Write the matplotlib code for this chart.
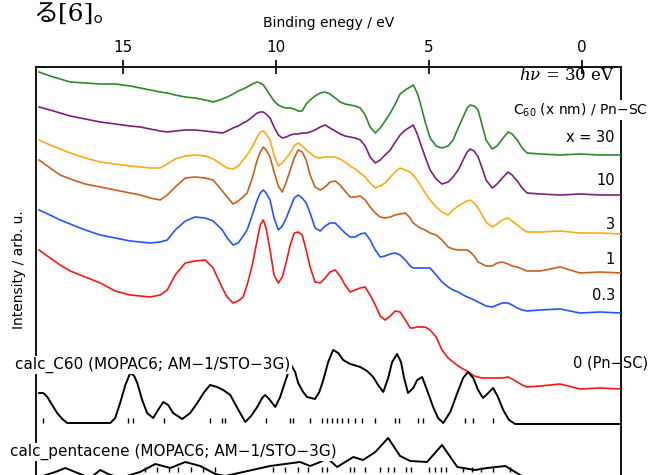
import matplotlib
matplotlib.use("Agg")
import matplotlib.pyplot as plt
import numpy as np

# ---------------- data ----------------
# common binding-energy grid (eV) of the measured spectra
energy = [17.75, 17.39, 17.06, 16.73, 16.24, 15.75, 15.26, 14.77, 14.44, 14.12,
          13.79, 13.56, 13.30, 12.97, 12.65, 12.32, 12.06, 11.76, 11.60, 11.41,
          11.24, 11.08, 10.95, 10.78, 10.62, 10.52, 10.42, 10.33, 10.20, 10.07,
          9.93, 9.80, 9.67, 9.54, 9.41, 9.28, 9.15, 9.02, 8.89, 8.73,
          8.56, 8.40, 8.24, 8.07, 7.91, 7.75, 7.58, 7.42, 7.25, 7.09,
          6.93, 6.76, 6.60, 6.44, 6.27, 6.11, 5.95, 5.78, 5.62, 5.52,
          5.39, 5.29, 5.13, 4.97, 4.77, 4.58, 4.38, 4.22, 4.05, 3.89,
          3.76, 3.66, 3.53, 3.40, 3.27, 3.14, 2.94, 2.78, 2.61, 2.42,
          2.29, 2.12, 1.96, 1.80, 1.37, 0.72, 0.07, -0.59, -1.24]

# intensities (arb. u.) relative to each trace's low-binding-energy level
i_30 = [83, 79, 76, 73, 72, 71, 71, 69, 67, 65, 63, 62, 60, 58, 57, 55, 53, 56, 58, 61,
        64, 66, 68, 71, 73, 72, 70, 66, 60, 54, 50, 48, 47, 47, 46, 44, 44, 51, 55, 59,
        62, 63, 61, 57, 53, 51, 50, 49, 47, 40, 28, 22, 27, 34, 42, 51, 61, 65, 68, 70,
        62, 52, 33, 17, 9, 7, 9, 15, 27, 38, 47, 50, 49, 45, 30, 15, 6, 9, 16, 23,
        21, 15, 7, 2, 1, 0, 1, 0, 0]
i_10 = [88, 85, 82, 79, 76, 73, 71, 69, 68, 66, 64, 63, 64, 65, 65, 64, 63, 62, 64, 67,
        69, 72, 74, 78, 82, 83, 83, 81, 77, 68, 60, 57, 58, 60, 61, 61, 62, 62, 63, 65,
        68, 70, 67, 64, 61, 59, 58, 57, 55, 49, 38, 32, 35, 40, 45, 53, 60, 65, 68, 70,
        61, 52, 38, 25, 16, 11, 13, 18, 25, 35, 43, 46, 44, 38, 27, 15, 7, 11, 17, 23,
        20, 14, 7, 2, 1, 0, 1, 0, 0]
i_3 = [94, 89, 85, 81, 76, 72, 70, 68, 67, 66, 66, 70, 75, 78, 79, 78, 75, 69, 66, 65,
       68, 74, 79, 87, 97, 102, 103, 100, 94, 79, 68, 71, 76, 81, 88, 91, 88, 84, 81, 77,
       76, 77, 77, 77, 75, 72, 68, 65, 61, 57, 51, 46, 48, 51, 57, 62, 66, 64, 62, 59,
       54, 49, 41, 34, 27, 22, 19, 24, 28, 31, 33, 34, 31, 26, 19, 12, 7, 10, 14, 16,
       13, 9, 5, 2, 2, 3, 1, 1, 0]
i_1 = [113, 105, 98, 94, 89, 86, 83, 80, 78, 75, 73, 78, 86, 95, 96, 95, 93, 82, 76, 69,
       72, 76, 80, 95, 113, 121, 126, 123, 116, 101, 87, 81, 91, 103, 115, 123, 121, 113, 98, 86,
       83, 86, 91, 92, 88, 82, 76, 76, 77, 73, 66, 60, 56, 55, 56, 58, 59, 60, 55, 50,
       47, 45, 43, 40, 38, 33, 26, 24, 23, 23, 23, 21, 17, 11, 9, 7, 7, 10, 11, 9,
       7, 6, 4, 2, 2, 6, 0, 1, 0]
i_03 = [103, 98, 93, 89, 83, 78, 75, 72, 71, 70, 71, 73, 83, 92, 96, 95, 92, 83, 75, 68,
        70, 77, 83, 98, 113, 120, 123, 120, 113, 95, 83, 87, 95, 105, 115, 118, 115, 110, 100, 85,
        82, 87, 90, 90, 85, 80, 76, 76, 79, 80, 73, 63, 56, 57, 59, 60, 58, 53, 47, 45,
        45, 45, 45, 45, 38, 31, 26, 23, 21, 18, 16, 15, 13, 11, 9, 7, 6, 8, 10, 10,
        8, 5, 3, 2, 3, 4, 0, 1, 0]
i_0 = [139, 131, 124, 118, 112, 106, 98, 94, 93, 92, 94, 99, 114, 126, 128, 129, 121, 101, 92, 86,
       88, 92, 104, 124, 149, 164, 169, 161, 139, 114, 106, 112, 127, 144, 156, 157, 154, 139, 122, 107,
       106, 111, 117, 119, 113, 104, 97, 99, 101, 102, 94, 84, 73, 69, 73, 78, 77, 69, 61, 61,
       62, 62, 62, 59, 52, 39, 31, 27, 23, 20, 18, 16, 13, 12, 11, 11, 11, 11, 11, 12,
       10, 7, 4, 2, 3, 5, 0, 1, 0]

# calculated DOS of C60
e_c60 = [17.75, 17.61, 17.48, 17.32, 17.16, 16.99, 16.83, 15.42, 15.26, 15.10, 14.93, 14.77, 14.64, 14.54,
         14.38, 14.22, 14.02, 13.86, 13.69, 13.53, 13.37, 13.07, 12.81, 12.58, 12.35, 12.16, 11.93, 11.73,
         11.50, 11.27, 11.01, 10.82, 10.62, 10.46, 10.36, 10.23, 10.03, 9.87, 9.71, 9.61, 9.51, 9.38, 9.28,
         9.12, 8.99, 8.73, 8.59, 8.46, 8.30, 8.14, 7.97, 7.81, 7.58, 7.25, 7.03, 6.83, 6.67, 6.50, 6.34,
         6.21, 6.05, 5.92, 5.82, 5.69, 5.52, 5.39, 5.23, 5.07, 4.87, 4.71, 4.54, 4.31, 4.08, 3.89, 3.73,
         3.56, 3.40, 3.24, 3.07, 2.91, 2.75, 2.58, 2.39, 2.19, -1.24]
i_c60 = [31, 31, 27, 19, 11, 5, 1, 1, 6, 21, 39, 51, 48, 41,
         24, 11, 6, 14, 22, 19, 11, 5, 11, 21, 32, 39, 37, 34,
         29, 16, 2, 8, 17, 26, 29, 25, 17, 27, 42, 51, 59, 52, 41,
         32, 27, 25, 32, 44, 62, 74, 71, 64, 60, 57, 53, 47, 39, 32, 46,
         62, 70, 62, 46, 31, 36, 44, 47, 34, 17, 6, 1, 12, 31, 46, 52,
         46, 34, 26, 31, 36, 27, 14, 4, 0, 0]
stick_c60 = [17.61, 14.84, 14.67, 13.66, 12.16, 11.76, 11.67, 10.33, 9.54, 9.44, 8.89, 8.50, 8.33, 8.17, 8.01, 7.84,
             7.65, 7.42, 7.19, 6.76, 6.11, 5.98, 5.36, 5.20, 3.82, 3.56, 2.91]

# calculated DOS of pentacene (only the upper part is visible)
e_pn = [17.84, 17.22, 16.89, 16.57, 16.08, 15.75, 15.49, 15.10, 14.45, 13.95, 13.46, 12.97, 12.48, 11.99, 11.34, 10.68,
        10.20, 9.71, 9.22, 8.89, 8.56, 8.33, 8.01, 7.48, 7.16, 6.76, 6.34, 5.95, 5.62, 5.07, 4.58, 4.08, 3.50, 3.10, 2.51,
        2.19, 1.86, -1.24]
i_pn = [0, 6, 10, 6, 0, 8, 4, 0, 6, 14, 10, 16, 12, 4, 0, 2,
        12, 14, 16, 12, 16, 20, 11, 21, 18, 26, 40, 22, 17, 16, 33, 11, 8, 10, 12,
        6, 0, 0]
stick_pn = [14.3, 13.9, 13.5, 13.2, 12.8, 12.4, 12.0, 10.1, 9.7, 9.3, 8.95, 8.5, 8.35, 7.6, 7.45, 7.1, 6.6, 6.35, 6.15,
            5.75, 5.6, 5.0, 4.8, 4.6, 4.45, 3.9, 3.6, 3.3, 2.9, 2.35]

labels = ["x = 30", "10", "3", "1", "0.3", "0 (Pn\u2212SC)"]
series_i = [i_30, i_10, i_3, i_1, i_03, i_0]
offsets = [320, 280, 241, 202, 162, 86]
colors = ["#2b8a2b", "#7d1f7d", "#ffaa10", "#cc5f1e", "#2255ff", "#ff1414"]
c60_offset = 51
pn_offset = -3

xticks = [15, 10, 5, 0]

# ---------------- figure ----------------
W, H = 649, 475
fig = plt.figure(figsize=(W / 100, H / 100), dpi=100)
ax = fig.add_axes([36 / W, 0, (621 - 36) / W, (475 - 67) / H])
ax.set_xlim(17.85, -1.27)
ax.set_ylim(0, 408)

for i, off, c in zip(series_i, offsets, colors):
    ax.plot(energy, np.asarray(i) + off, color=c, lw=1.2, zorder=3)

ax.plot(e_c60, np.asarray(i_c60) + c60_offset, color="black", lw=1.4, zorder=3)
ax.vlines(stick_c60, c60_offset + 1, c60_offset + 6, color="black", lw=1.0)
ax.plot(e_pn, np.asarray(i_pn) + pn_offset, color="black", lw=1.4, zorder=3)
ax.vlines(stick_pn, 3, 8, color="black", lw=1.0)

# axes styling
ax.spines["bottom"].set_visible(False)
for s in ("top", "left", "right"):
    ax.spines[s].set_linewidth(1.3)
ax.set_yticks([])
ax.xaxis.tick_top()
ax.xaxis.set_label_position("top")
ax.set_xticks(xticks)
ax.set_xticklabels([str(t) for t in xticks])
ax.tick_params(axis="x", direction="inout", length=10, width=1.2, labelsize=11, pad=4)
ax.set_xlabel("Binding enegy / eV", fontsize=10, labelpad=9)

# texts
def ftxt(x, y, s, **kw):
    return fig.text(x / W, 1 - y / H, s, **kw)

ftxt(33, 15, "る[6]。", fontsize=18, va="center", ha="left",
     family=["DejaVu Serif", "Noto Sans CJK JP"])
ftxt(615, 76, r"$h\nu$ = 30 eV", fontsize=12, ha="right", va="center", family="DejaVu Serif",
     math_fontfamily="dejavuserif")
ftxt(648, 110, "C$_{60}$ (x nm) / Pn\u2212SC", fontsize=10, ha="right", va="center",
     bbox=dict(facecolor="white", edgecolor="none", pad=1))
label_y = [137, 180, 225, 260, 295, 363]
for lab, yy in zip(labels, label_y):
    ftxt(648 if lab.startswith("0 (") else 615, yy, lab, fontsize=10.5, ha="right", va="center")
ftxt(15, 365, "calc_C60 (MOPAC6; AM\u22121/STO\u22123G)", fontsize=11, ha="left", va="center",
     bbox=dict(facecolor="white", edgecolor="none", pad=1), zorder=5)
ftxt(10, 452, "calc_pentacene (MOPAC6; AM\u22121/STO\u22123G)", fontsize=11, ha="left", va="center",
     bbox=dict(facecolor="white", edgecolor="none", pad=1), zorder=5)
ftxt(19, 270, "Intensity / arb. u.", fontsize=10, rotation=90, ha="center", va="center")

fig.savefig("out.png", dpi=100)
